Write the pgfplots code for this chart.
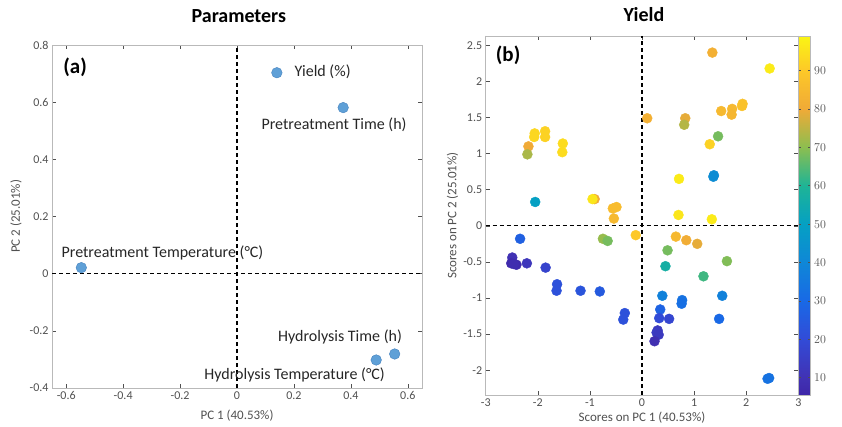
\documentclass[border=0pt]{standalone}
\usepackage{fontspec}
\setmainfont{Carlito}
\usepackage{pgfplots}
\pgfplotsset{compat=1.18}

\definecolor{tickgray}{RGB}{80,80,80}
\definecolor{boxgray}{RGB}{185,185,185}
\definecolor{ldblue}{RGB}{95,160,215}
\definecolor{ldedge}{RGB}{70,130,190}

\tikzset{zeroline/.style={black, line width=1.2pt, dash pattern=on 4pt off 3pt}}

\pgfplotsset{
  matstyle/.style={
    scale only axis,
    axis line style={boxgray, line width=0.6pt},
    tick align=inside,
    major tick length=4pt,
    tick style={tickgray, line width=0.5pt},
    ticklabel style={font=\fontsize{12}{14}\selectfont, text=tickgray},
    /pgf/number format/assume math mode=true,
    label style={font=\fontsize{13}{15}\selectfont, text=tickgray},
    title style={font=\fontsize{20}{24}\selectfont\bfseries},
  },
  % parula-like map; positions are (yield - 5.5)
  colormap={parula}{
    rgb255(0cm)=(62,38,168) rgb255(4.5cm)=(65,50,180)
    rgb255(14.5cm)=(50,75,215) rgb255(24.5cm)=(25,105,230)
    rgb255(34.5cm)=(15,135,215) rgb255(44.5cm)=(5,160,195)
    rgb255(54.5cm)=(30,180,150) rgb255(64.5cm)=(140,190,80)
    rgb255(74.5cm)=(240,170,55) rgb255(84.5cm)=(253,200,40)
    rgb255(93.5cm)=(250,245,20)
  },
}

% PCA loadings
\pgfplotstableread{
x      y
0.140  0.703
0.373  0.581
-0.547 0.021
0.489  -0.302
0.554  -0.281
}\loadings

% PCA scores, coloured by yield
\pgfplotstableread{
x     y     c
1.35  2.40  82
2.45  2.18  97
1.93  1.69  88
1.92  1.66  88
1.73  1.62  85
1.72  1.54  84
1.52  1.59  85
0.10  1.49  82
0.83  1.49  79
0.81  1.40  74
1.46  1.24  68
1.30  1.13  92
1.38  0.70  42
1.37  0.68  42
0.71  0.65  97
0.70  0.15  96
1.34  0.09  97
0.65  -0.15 85
0.85  -0.20 81
1.06  -0.25 79
0.49  -0.34 68
1.63  -0.49 69
0.45  -0.56 57
1.18  -0.70 63
0.39  -0.97 38
1.54  -0.97 38
0.77  -1.03 33
0.76  -1.08 32
0.35  -1.16 28
0.33  -1.28 20
0.52  -1.29 18
1.48  -1.29 30
0.30  -1.45 13
0.28  -1.48 14
0.32  -1.51 13
0.24  -1.60 9
2.41  -2.12 33
2.44  -2.11 33
-0.12 -0.13 90
-0.75 -0.18 71
-0.66 -0.21 68
-0.54 0.10  85
-0.56 0.24  86
-0.49 0.26  86
-0.91 0.37  80
-0.95 0.37  96
-2.05 0.33  50
-2.18 1.10  80
-2.20 0.99  73
-2.06 1.28  93
-2.07 1.23  93
-1.86 1.31  92
-1.86 1.23  92
-1.52 1.14  94
-1.53 1.02  94
-2.34 -0.18 27
-2.49 -0.44 10
-2.51 -0.52 7
-2.41 -0.54 7
-2.46 -0.53 8
-2.21 -0.52 12
-1.85 -0.58 17
-1.63 -0.81 22
-1.64 -0.90 22
-1.18 -0.90 23
-0.81 -0.91 25
-0.33 -1.21 22
-0.36 -1.30 22
}\scores

\begin{document}
\begin{tikzpicture}
\path[use as bounding box] (0,0) rectangle (842pt,426pt);

% (a) Parameters
\begin{axis}[
  matstyle,
  at={(52pt,38pt)}, anchor=south west,
  width=370pt, height=343pt,
  xmin=-0.65, xmax=0.65, ymin=-0.4, ymax=0.8,
  xtick={-0.6,-0.4,...,0.6},
  ytick={-0.4,-0.2,...,0.8},
  title={Parameters},
  title style={at={(axis description cs:0.505,1.067)}, anchor=center},
  xlabel={PC 1 (40.53\%)},
  ylabel={PC 2 (25.01\%)},
  xlabel style={at={(axis description cs:0.5,-0.08)}, anchor=center},
  ylabel style={at={(axis description cs:-0.097,0.5)}, anchor=center, rotate=0},
]
\draw[zeroline] (axis cs:0,-0.4) -- (axis cs:0,0.8);
\draw[zeroline] (axis cs:-0.65,0) -- (axis cs:0.65,0);
\addplot[only marks, mark=*, mark size=5.3pt, mark options={fill=ldblue, draw=ldedge, line width=0.4pt}]
  table[x=x, y=y] {\loadings};
\begin{scope}[font=\fontsize{16}{19}\selectfont, text=black!85]
\node[anchor=west] at (axis cs:0.19,0.706) {Yield (\%)};
\node at (axis cs:0.341,0.52) {Pretreatment Time (h)};
\node at (axis cs:-0.262,0.072) {Pretreatment Temperature (°C)};
\node at (axis cs:0.362,-0.222) {Hydrolysis Time (h)};
\node at (axis cs:0.2025,-0.355) {Hydrolysis Temperature (°C)};
\end{scope}
\node[font=\fontsize{21}{24}\selectfont\bfseries] at (axis cs:-0.569,0.723) {(a)};
\end{axis}

% (b) Yield
\begin{axis}[
  matstyle,
  at={(485.7pt,31pt)}, anchor=south west,
  width=312.6pt, height=359pt,
  xmin=-3, xmax=3, ymin=-2.345, ymax=2.63,
  xtick={-3,-2,...,3},
  ytick={-2,-1.5,...,2.5},
  title={Yield},
  title style={at={(axis description cs:0.506,1.042)}, anchor=center},
  xlabel={Scores on PC 1 (40.53\%)},
  ylabel={Scores on PC 2 (25.01\%)},
  xlabel style={at={(axis description cs:0.5,-0.064)}, anchor=center},
  ylabel style={at={(axis description cs:-0.106,0.5)}, anchor=center, rotate=0},
  colormap name=parula,
  point meta min=5.5, point meta max=99,
  colorbar,
  colorbar style={
    at={(1,1)}, anchor=north west, xshift=9.4pt,
    width=12.3pt, height=359pt,
    ytick={10,20,...,90},
    yticklabel pos=right,
    tick align=inside,
    major tick length=3pt,
    axis line style={boxgray, line width=0.5pt},
    tick style={tickgray, line width=0.5pt},
    yticklabel style={font=\fontsize{12}{14}\selectfont, text=tickgray},
  },
]
\draw[zeroline] (axis cs:0,-2.345) -- (axis cs:0,2.63);
\draw[zeroline] (axis cs:-3,0) -- (axis cs:3,0);
\addplot[scatter, only marks, mark=*, mark size=5pt, point meta=explicit,
  scatter/use mapped color={draw=mapped color, fill=mapped color}]
  table[x=x, y=y, meta=c] {\scores};
\node[font=\fontsize{21}{24}\selectfont\bfseries] at (axis cs:-2.57,2.36) {(b)};
\end{axis}
\end{tikzpicture}
\end{document}
